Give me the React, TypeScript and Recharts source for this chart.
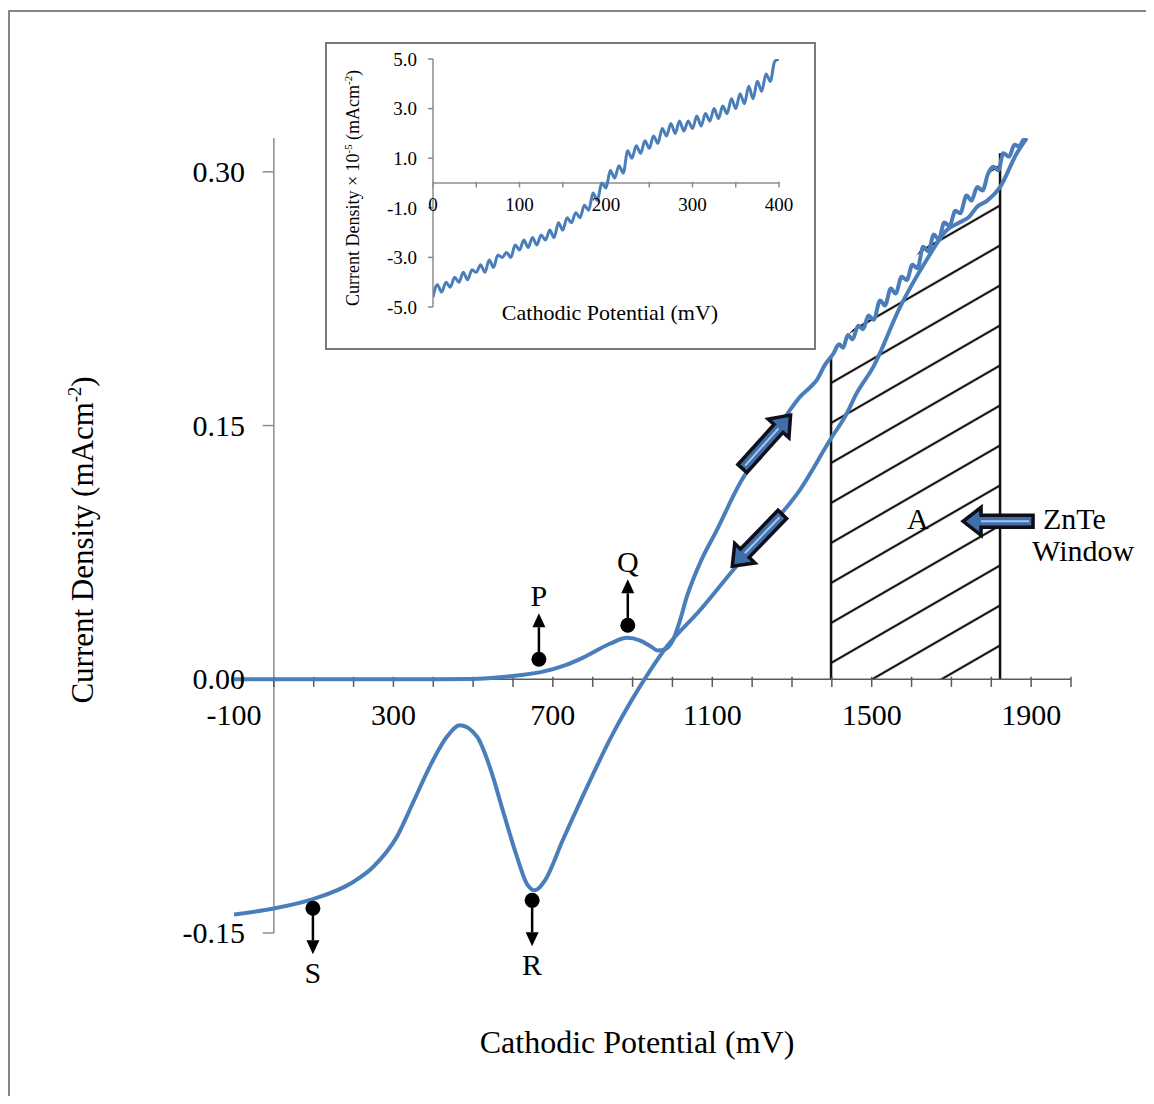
import React from "react";
import { ComposedChart, Line, Area, XAxis, YAxis, ReferenceLine, ReferenceDot } from "recharts";

const SERIF = '"Liberation Serif", "Times New Roman", serif';
const BLUE = "#4a7ebb";

// forward (anodic-going) sweep, mV vs mA cm^-2
const forwardScan = [
  { mv: -100, j: 0 }, { mv: 0, j: 0 }, { mv: 100, j: 0 }, { mv: 200, j: 0 }, { mv: 300, j: 0 },
  { mv: 400, j: 0 }, { mv: 500, j: 0.0002 }, { mv: 567, j: 0.0012 }, { mv: 620, j: 0.0025 },
  { mv: 675, j: 0.0045 }, { mv: 730, j: 0.0082 }, { mv: 776, j: 0.0128 }, { mv: 843, j: 0.021 },
  { mv: 886, j: 0.0245 }, { mv: 918, j: 0.023 }, { mv: 945, j: 0.0195 }, { mv: 963, j: 0.017 },
  { mv: 982, j: 0.0178 }, { mv: 1001, j: 0.023 }, { mv: 1018, j: 0.034 }, { mv: 1036, j: 0.0487 },
  { mv: 1069, j: 0.0686 }, { mv: 1111, j: 0.088 }, { mv: 1169, j: 0.1157 }, { mv: 1210, j: 0.131 },
  { mv: 1253, j: 0.1453 }, { mv: 1290, j: 0.1575 }, { mv: 1320, j: 0.167 }, { mv: 1345, j: 0.1725 },
  { mv: 1362, j: 0.1768 }, { mv: 1383, j: 0.186 }, { mv: 1404, j: 0.1926 }, { mv: 1418, j: 0.198 },
  { mv: 1428, j: 0.196 }, { mv: 1440, j: 0.2035 }, { mv: 1452, j: 0.201 }, { mv: 1466, j: 0.209 },
  { mv: 1478, j: 0.207 }, { mv: 1492, j: 0.215 }, { mv: 1505, j: 0.2125 }, { mv: 1521, j: 0.224 },
  { mv: 1533, j: 0.221 }, { mv: 1548, j: 0.231 }, { mv: 1560, j: 0.228 }, { mv: 1575, j: 0.238 },
  { mv: 1588, j: 0.236 }, { mv: 1602, j: 0.245 }, { mv: 1615, j: 0.243 }, { mv: 1629, j: 0.2557 },
  { mv: 1642, j: 0.253 }, { mv: 1656, j: 0.263 }, { mv: 1668, j: 0.26 }, { mv: 1682, j: 0.27 },
  { mv: 1695, j: 0.268 }, { mv: 1710, j: 0.277 }, { mv: 1722, j: 0.2755 }, { mv: 1738, j: 0.286 },
  { mv: 1750, j: 0.283 }, { mv: 1765, j: 0.291 }, { mv: 1778, j: 0.289 }, { mv: 1792, j: 0.299 },
  { mv: 1805, j: 0.303 }, { mv: 1818, j: 0.301 }, { mv: 1830, j: 0.311 }, { mv: 1845, j: 0.309 },
  { mv: 1858, j: 0.316 }, { mv: 1870, j: 0.315 }, { mv: 1880, j: 0.3187 }, { mv: 1889, j: 0.32 },
];

// return sweep, listed with increasing potential
const reverseScan = [
  { mv: -100, j: -0.139 }, { mv: 0, j: -0.1355 }, { mv: 98, j: -0.13 }, { mv: 198, j: -0.12 },
  { mv: 249, j: -0.111 }, { mv: 309, j: -0.093 }, { mv: 349, j: -0.073 }, { mv: 399, j: -0.048 },
  { mv: 434, j: -0.034 }, { mv: 467, j: -0.0272 }, { mv: 510, j: -0.034 }, { mv: 542, j: -0.052 },
  { mv: 575, j: -0.078 }, { mv: 610, j: -0.105 }, { mv: 635, j: -0.121 }, { mv: 655, j: -0.1248 },
  { mv: 680, j: -0.119 }, { mv: 725, j: -0.095 }, { mv: 785, j: -0.064 }, { mv: 851, j: -0.032 },
  { mv: 918, j: -0.0045 }, { mv: 985, j: 0.0191 }, { mv: 1069, j: 0.0408 }, { mv: 1152, j: 0.0645 },
  { mv: 1237, j: 0.088 }, { mv: 1320, j: 0.112 }, { mv: 1395, j: 0.1413 }, { mv: 1437, j: 0.157 },
  { mv: 1462, j: 0.169 }, { mv: 1504, j: 0.1847 }, { mv: 1571, j: 0.22 }, { mv: 1638, j: 0.248 },
  { mv: 1688, j: 0.2655 }, { mv: 1720, j: 0.27 }, { mv: 1745, j: 0.2735 }, { mv: 1763, j: 0.279 },
  { mv: 1790, j: 0.283 }, { mv: 1822, j: 0.291 }, { mv: 1864, j: 0.311 }, { mv: 1889, j: 0.32 },
];

const xTicks = [-100, 300, 700, 1100, 1500, 1900];
const xMinorTicks = [0, 100, 200, 300, 400, 500, 600, 700, 800, 900, 1000, 1100, 1200, 1300, 1400, 1500, 1600, 1700, 1800, 1900, 2000];
const yTicks = [-0.15, 0, 0.15, 0.3];

// ZnTe deposition window (hatched area "A")
const windowEdges = [
  { mv: 1398, top: 0.19 },
  { mv: 1822, top: 0.311 },
];
const windowTop = [
  { mv: 1398, j: 0.19 }, { mv: 1440, j: 0.2035 }, { mv: 1521, j: 0.224 }, { mv: 1629, j: 0.2557 },
  { mv: 1722, j: 0.2755 }, { mv: 1792, j: 0.299 }, { mv: 1822, j: 0.305 },
];

const peakMarkers = [
  { label: "P", mv: 665, j: 0.0118, dir: -1 },
  { label: "Q", mv: 888, j: 0.0319, dir: -1 },
  { label: "R", mv: 648, j: -0.1307, dir: 1 },
  { label: "S", mv: 98, j: -0.1354, dir: 1 },
];

const sweepArrows = [
  { mv: 1236, j: 0.1404, angle: -48 },
  { mv: 1213, j: 0.0822, angle: 134 },
];
const windowArrow = { mv: 1817, j: 0.0934 };
const windowLabel = { mv: 1616, j: 0.095 };

// inset: low potential region, current density x 10^-5
const insetPotential = [
  0, 5, 10, 15, 20, 25, 30, 35, 40, 45, 50, 55, 60, 65, 70, 75, 80, 85, 90, 95, 100,
  105, 110, 115, 120, 125, 130, 135, 140, 145, 150, 155, 160, 165, 170, 175, 180, 185, 190, 195, 200,
  205, 210, 215, 220, 225, 230, 235, 240, 245, 250, 255, 260, 265, 270, 275, 280, 285, 290, 295, 300,
  305, 310, 315, 320, 325, 330, 335, 340, 345, 350, 355, 360, 365, 370, 375, 380, 385, 390, 395, 400,
];
const insetCurrent = [
  -4.6, -4.1, -4.4, -4.0, -4.2, -3.8, -4.0, -3.6, -3.9, -3.5, -3.6, -3.3, -3.6, -3.1, -3.4, -2.9, -3.0, -2.8, -3.0, -2.5, -2.7,
  -2.3, -2.6, -2.2, -2.5, -2.1, -2.3, -1.9, -2.2, -1.6, -1.9, -1.4, -1.6, -1.2, -1.4, -0.9, -1.1, -0.4, -0.7, 0.0, -0.2,
  0.5, 0.2, 0.7, 0.4, 1.3, 1.0, 1.5, 1.2, 1.7, 1.4, 1.9, 1.6, 2.2, 1.9, 2.4, 2.0, 2.5, 2.1, 2.5, 2.2,
  2.7, 2.3, 2.8, 2.5, 3.0, 2.6, 3.1, 2.8, 3.4, 3.0, 3.6, 3.2, 3.9, 3.4, 4.1, 3.7, 4.4, 4.1, 4.9, 5.0,
];
const insetXTicks = [0, 100, 200, 300, 400];
const insetMinorTicks = [0, 50, 100, 150, 200, 250, 300, 350, 400];
const insetYTicks = [-5, -3, -1, 1, 3, 5];

const insetData = insetPotential.map((mv, i) => ({ mv, j: insetCurrent[i] }));

function MainXTick({ x, payload }: any) {
  return (
    <text x={x} y={725} textAnchor="middle" fontFamily={SERIF} fontSize={30} fill="#000">
      {payload.value}
    </text>
  );
}

function MainYTick({ y, payload }: any) {
  return (
    <text x={245} y={y} dy={10} textAnchor="end" fontFamily={SERIF} fontSize={30} fill="#000">
      {payload.value.toFixed(2)}
    </text>
  );
}

function InsetXTick({ x, payload }: any) {
  return (
    <text x={x} y={169} textAnchor="middle" fontFamily={SERIF} fontSize={19} fill="#000">
      {payload.value}
    </text>
  );
}

function PointMarker({ cx, cy, label, dir }: any) {
  // dir -1 = arrow up, 1 = arrow down
  const tip = cy + dir * 46;
  const base = cy + dir * 32;
  return (
    <g>
      <circle cx={cx} cy={cy} r={7.5} fill="#000" />
      <line x1={cx} y1={cy} x2={cx} y2={base} stroke="#000" strokeWidth={2.5} />
      <polygon points={`${cx - 6.5},${base} ${cx + 6.5},${base} ${cx},${tip}`} fill="#000" />
      <text x={cx} y={cy + dir * 64} dy="0.35em" textAnchor="middle" fontFamily={SERIF} fontSize={30} fill="#000">
        {label}
      </text>
    </g>
  );
}

function BlockArrow({ cx, cy, angle, len = 72 }: any) {
  const h = len / 2;
  const neck = h - 18;
  const pts = `${-h},-6 ${neck},-6 ${neck},-14 ${h},0 ${neck},14 ${neck},6 ${-h},6`;
  return (
    <g transform={`translate(${cx},${cy}) rotate(${angle})`}>
      <polygon points={pts} fill="#3f6ea8" stroke="#0e0f18" strokeWidth={3.5} strokeLinejoin="miter" />
      <line x1={-h + 4} y1={0} x2={neck} y2={0} stroke="#a9c6ea" strokeWidth={2} />
    </g>
  );
}

function WindowArrow({ cx, cy }: any) {
  return (
    <g>
      <BlockArrow cx={cx} cy={cy} angle={180} len={70} />
      <text x={cx + 45} y={cy + 8} fontFamily={SERIF} fontSize={30} fill="#000">ZnTe</text>
      <text x={cx + 34} y={cy + 40} fontFamily={SERIF} fontSize={30} fill="#000">Window</text>
    </g>
  );
}

function MainChart() {
  return (
    <ComposedChart width={1154} height={1104} margin={{ top: 138, right: 83, bottom: 141, left: 194 }}>
      <XAxis
        type="number"
        dataKey="mv"
        domain={[-100, 2000]}
        allowDataOverflow
        ticks={xTicks}
        interval={0}
        axisLine={false}
        tickLine={false}
        height={30}
        tick={<MainXTick />}
      />
      <YAxis
        type="number"
        domain={[-0.15, 0.32]}
        allowDataOverflow
        ticks={yTicks}
        interval={0}
        axisLine={false}
        tickLine={false}
        width={40}
        tick={<MainYTick />}
      />
      <Area
        data={windowTop}
        dataKey="j"
        type="linear"
        stroke="none"
        fill="url(#znteHatch)"
        fillOpacity={1}
        baseValue={0}
        isAnimationActive={false}
      />
      {windowEdges.map((e) => (
        <ReferenceLine key={e.mv} segment={[{ x: e.mv, y: 0 }, { x: e.mv, y: e.top }]} stroke="#111" strokeWidth={2.5} />
      ))}
      <ReferenceLine segment={[{ x: 0, y: -0.15 }, { x: 0, y: 0.32 }]} stroke="#8c8c8c" strokeWidth={1.5} />
      {yTicks.map((v) => (
        <ReferenceLine key={`yt${v}`} segment={[{ x: -28, y: v }, { x: 0, y: v }]} stroke="#8c8c8c" strokeWidth={1.5} />
      ))}
      <ReferenceLine segment={[{ x: -100, y: 0 }, { x: 2000, y: 0 }]} stroke="#5a5a5a" strokeWidth={1.5} />
      {xMinorTicks.map((v) => (
        <ReferenceLine key={`xt${v}`} segment={[{ x: v, y: 0.0015 }, { x: v, y: -0.0045 }]} stroke="#5a5a5a" strokeWidth={1.5} />
      ))}
      <Line data={forwardScan} dataKey="j" type="monotone" stroke={BLUE} strokeWidth={4} dot={false} isAnimationActive={false} />
      <Line data={reverseScan} dataKey="j" type="monotone" stroke={BLUE} strokeWidth={4} dot={false} isAnimationActive={false} />
      {peakMarkers.map((m) => (
        <ReferenceDot
          key={m.label}
          x={m.mv}
          y={m.j}
          r={7}
          shape={(p: any) => <PointMarker cx={p.cx} cy={p.cy} label={m.label} dir={m.dir} />}
        />
      ))}
      {sweepArrows.map((a, i) => (
        <ReferenceDot key={`arr${i}`} x={a.mv} y={a.j} r={1} shape={(p: any) => <BlockArrow cx={p.cx} cy={p.cy} angle={a.angle} />} />
      ))}
      <ReferenceDot x={windowArrow.mv} y={windowArrow.j} r={1} shape={(p: any) => <WindowArrow cx={p.cx} cy={p.cy} />} />
      <ReferenceDot
        x={windowLabel.mv}
        y={windowLabel.j}
        r={1}
        shape={(p: any) => (
          <text x={p.cx} y={p.cy} dy="0.35em" textAnchor="middle" fontFamily={SERIF} fontSize={30} fill="#000">
            A
          </text>
        )}
      />
    </ComposedChart>
  );
}

function InsetChart() {
  return (
    <ComposedChart width={491} height={308} margin={{ top: 17, right: 37, bottom: 23, left: 68 }}>
      <XAxis
        type="number"
        dataKey="mv"
        domain={[0, 400]}
        allowDataOverflow
        ticks={insetXTicks}
        interval={0}
        axisLine={false}
        tickLine={false}
        height={20}
        tick={<InsetXTick />}
      />
      <YAxis
        type="number"
        domain={[-5, 5]}
        allowDataOverflow
        ticks={insetYTicks}
        interval={0}
        width={40}
        axisLine={{ stroke: "#8c8c8c", strokeWidth: 1.5 }}
        tickLine={{ stroke: "#8c8c8c", strokeWidth: 1.5 }}
        tickSize={5}
        tickMargin={11}
        tickFormatter={(v: number) => v.toFixed(1)}
        tick={{ fontFamily: SERIF, fontSize: 19, fill: "#000" }}
      />
      <ReferenceLine segment={[{ x: 0, y: 0 }, { x: 400, y: 0 }]} stroke="#8c8c8c" strokeWidth={1.5} />
      {insetMinorTicks.map((v) => (
        <ReferenceLine key={`it${v}`} segment={[{ x: v, y: 0.05 }, { x: v, y: -0.18 }]} stroke="#8c8c8c" strokeWidth={1.5} />
      ))}
      <Line data={insetData} dataKey="j" type="monotone" stroke={BLUE} strokeWidth={3} dot={false} isAnimationActive={false} />
    </ComposedChart>
  );
}

export default function App() {
  const abs = (left: number, top: number): React.CSSProperties => ({ position: "absolute", left, top });
  return (
    <div style={{ position: "relative", width: 1154, height: 1104, margin: -8, overflow: "hidden", background: "#fff", fontFamily: SERIF }}>
      <svg width={0} height={0} style={{ position: "absolute" }}>
        <defs>
          <pattern id="znteHatch" patternUnits="userSpaceOnUse" width={12} height={34.64} patternTransform="rotate(-30)">
            <line x1={0} y1={19.8} x2={12} y2={19.8} stroke="#111" strokeWidth={2.2} />
          </pattern>
        </defs>
      </svg>
      <div style={{ ...abs(8, 10), width: 1142, height: 1110, boxSizing: "border-box", border: "2px solid #858585" }} />
      <div style={abs(0, 0)}>
        <MainChart />
      </div>
      <div
        style={{
          ...abs(82, 540),
          transform: "translate(-50%, -50%) rotate(-90deg)",
          whiteSpace: "nowrap",
          fontSize: 31,
          lineHeight: 1,
        }}
      >
        Current Density (mAcm<sup style={{ fontSize: "0.6em" }}>-2</sup>)
      </div>
      <div style={{ ...abs(637, 1042), transform: "translate(-50%, -50%)", whiteSpace: "nowrap", fontSize: 32, lineHeight: 1 }}>
        Cathodic Potential (mV)
      </div>
      <div
        style={{
          ...abs(325, 42),
          width: 491,
          height: 308,
          boxSizing: "border-box",
          border: "2px solid #7a7a7a",
          background: "#fff",
        }}
      />
      <div style={abs(325, 42)}>
        <InsetChart />
        <div
          style={{
            ...abs(27, 146),
            transform: "translate(-50%, -50%) rotate(-90deg)",
            whiteSpace: "nowrap",
            fontSize: 18,
            lineHeight: 1,
          }}
        >
          Current Density × 10<sup style={{ fontSize: "0.6em" }}>-5</sup> (mAcm<sup style={{ fontSize: "0.6em" }}>-2</sup>)
        </div>
        <div style={{ ...abs(285, 271), transform: "translate(-50%, -50%)", whiteSpace: "nowrap", fontSize: 22, lineHeight: 1 }}>
          Cathodic Potential (mV)
        </div>
      </div>
    </div>
  );
}
